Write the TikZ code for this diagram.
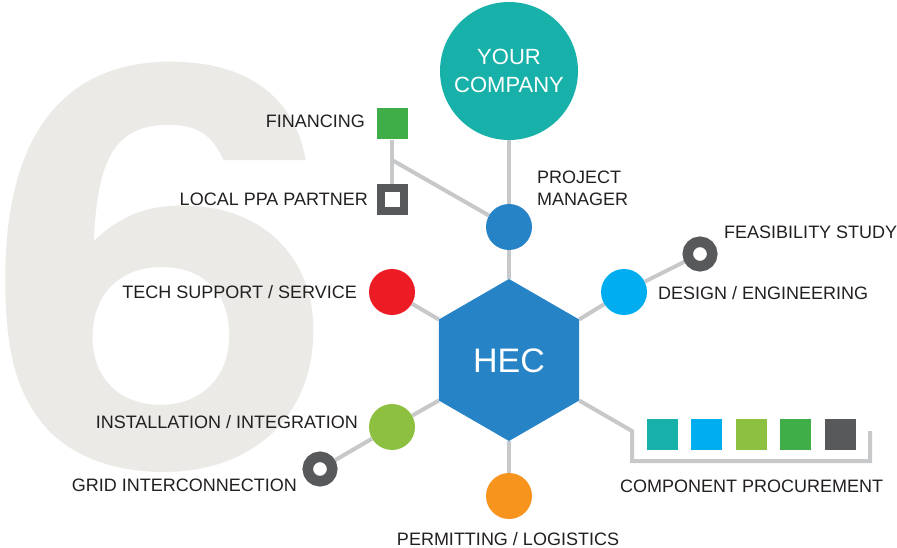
\documentclass[tikz,border=0pt]{standalone}
\usepackage{fontspec}
\setmainfont{Liberation Sans}
\newfontfamily\sixfont{TeX Gyre Heros}
\definecolor{tealc}{HTML}{17B1A9}
\definecolor{bluec}{HTML}{2583C6}
\definecolor{redc}{HTML}{ED1C24}
\definecolor{cyanc}{HTML}{00AEEF}
\definecolor{lgreenc}{HTML}{8DBF41}
\definecolor{greenc}{HTML}{3FAE49}
\definecolor{orangec}{HTML}{F7941D}
\definecolor{dgrayc}{HTML}{58595B}
\definecolor{linec}{HTML}{C7C8CA}
\definecolor{sixc}{HTML}{ECEAE7}
\definecolor{textc}{HTML}{231F20}
\pgfdeclarelayer{sixlayer}
\pgfdeclarelayer{lines}
\pgfsetlayers{sixlayer,lines,main}
\tikzset{
  conn/.style={draw=linec, line width=4pt},
  dot/.style={circle, minimum size=46pt, inner sep=0pt, fill=#1},
  ringnode/.style={circle, minimum size=24.5pt, inner sep=0pt, draw=dgrayc, line width=10.5pt, fill=white},
  sqnode/.style={rectangle, minimum size=31pt, inner sep=0pt, fill=#1},
  lbl/.style={font=\fontsize{18}{22.5}\selectfont, text=textc, inner sep=0pt},
}
\begin{document}
\begin{tikzpicture}[x=1pt,y=-1pt]
\useasboundingbox (0,0) rectangle (897,548);
\begin{pgfonlayer}{sixlayer}
\node[anchor=base west, inner sep=0pt, xscale=1.13, text=sixc, font=\sixfont\bfseries\fontsize{560}{560}\selectfont] (six) at (-15,467.5) {6};
\end{pgfonlayer}

% top company
\node[dot=tealc, minimum size=138pt] (comp) at (509,71) {};
\node[align=center, text=white, inner sep=0pt, font=\fontsize{22}{28}\selectfont] (comptxt) at (509,71) {YOUR\\COMPANY};

% hexagon
\coordinate (vT) at (509,279);
\coordinate (vUR) at (579.15,319.5);
\coordinate (vLR) at (579.15,400.5);
\coordinate (vB) at (509,441);
\coordinate (vLL) at (438.85,400.5);
\coordinate (vUL) at (438.85,319.5);
\fill[bluec] (vT) -- (vUR) -- (vLR) -- (vB) -- (vLL) -- (vUL) -- cycle;
\node[text=white, inner sep=0pt, font=\fontsize{34}{40}\selectfont] (hec) at (509,361) {HEC};

% satellites
\node[dot=bluec] (pm) at (509,227) {};
\node[dot=redc] (tech) at (392,292) {};
\node[dot=cyanc] (design) at (624,292) {};
\node[dot=lgreenc] (inst) at (392,427) {};
\node[dot=orangec] (perm) at (509,496) {};
\node[ringnode] (feas) at (700,254) {};
\node[ringnode] (grid) at (320,469) {};
\node[sqnode=greenc] (fin) at (392,124) {};
\node[rectangle, minimum size=23pt, inner sep=0pt, draw=dgrayc, line width=8pt, fill=white] (ppa) at (392,200) {};
\coordinate (br) at (392,160);

% component squares
\node[sqnode=tealc] (c1) at (662.5,434) {};
\node[sqnode=cyanc] (c2) at (706.5,434) {};
\node[sqnode=lgreenc] (c3) at (751.5,434) {};
\node[sqnode=greenc] (c4) at (795.5,434) {};
\node[sqnode=dgrayc] (c5) at (840.5,434) {};
\coordinate (b1) at (632,431);
\coordinate (b2) at (632,461);
\coordinate (b3) at (870,461);
\coordinate (b4) at (870,431);

\begin{pgfonlayer}{lines}
\draw[conn] (comp) -- (pm);
\draw[conn] (pm) -- (vT);
\draw[conn] (tech) -- (vUL);
\draw[conn] (design) -- (vUR);
\draw[conn] (inst) -- (vLL);
\draw[conn] (perm) -- (vB);
\draw[conn] (design) -- (feas);
\draw[conn] (inst) -- (grid);
\draw[conn] (fin) -- (ppa);
\draw[conn] (br) -- (pm);
\draw[conn] (vLR) -- (b1) -- (b2) -- (b3) -- (b4);
\end{pgfonlayer}

% labels
\node[lbl, anchor=base east] (lfin) at (365,128) {FINANCING};
\node[lbl, anchor=base east] (lppa) at (368,206) {LOCAL PPA PARTNER};
\node[lbl, anchor=base east] (ltech) at (357,298.5) {TECH SUPPORT / SERVICE};
\node[lbl, anchor=base east] (linst) at (358,428) {INSTALLATION / INTEGRATION};
\node[lbl, anchor=base east] (lgrid) at (297,491.5) {GRID INTERCONNECTION};
\node[lbl, anchor=base] (lperm) at (508,545) {PERMITTING / LOGISTICS};
\node[lbl, anchor=base west, align=left] (lpm) at (537,206) {PROJECT\\MANAGER};
\node[lbl, anchor=base west] (lfeas) at (724,239) {FEASIBILITY STUDY};
\node[lbl, anchor=base west] (ldes) at (658,299.5) {DESIGN / ENGINEERING};
\node[lbl, anchor=base west] (lcomp) at (620,492) {COMPONENT PROCUREMENT};
\end{tikzpicture}
\end{document}
